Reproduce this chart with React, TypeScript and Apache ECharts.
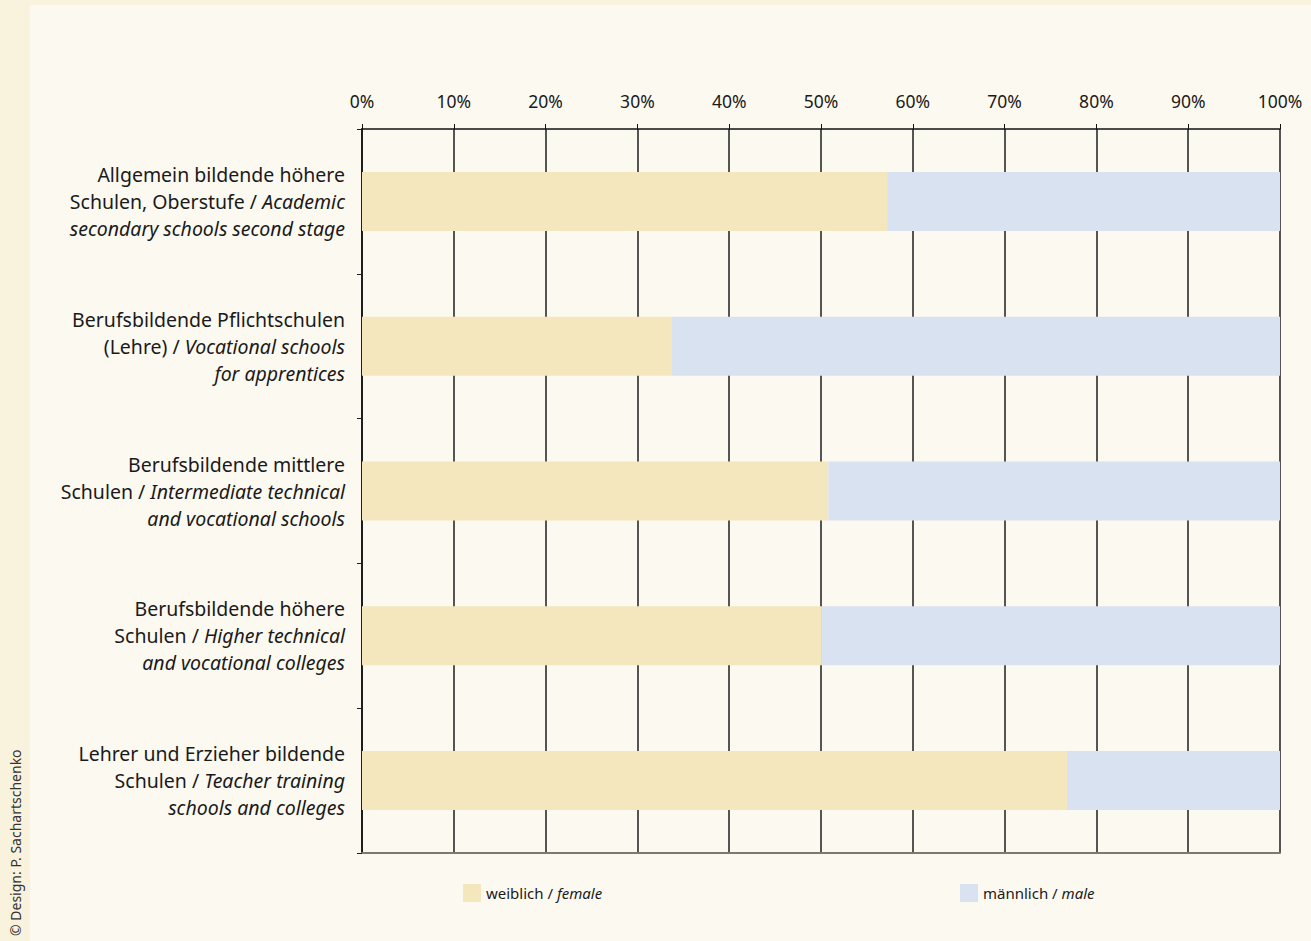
import React, { useEffect, useRef } from "react";
import * as echarts from "echarts";

const categories = [
  "Allgemein bildende höhere\nSchulen, Oberstufe / {i|Academic}\n{i|secondary schools second stage}",
  "Berufsbildende Pflichtschulen\n(Lehre) / {i|Vocational schools}\n{i|for apprentices}",
  "Berufsbildende mittlere\nSchulen / {i|Intermediate technical}\n{i|and vocational schools}",
  "Berufsbildende höhere\nSchulen / {i|Higher technical}\n{i|and vocational colleges}",
  "Lehrer und Erzieher bildende\nSchulen / {i|Teacher training}\n{i|schools and colleges}",
];
const female = [57.2, 33.7, 50.8, 50.1, 76.8];
const male = [42.8, 66.3, 49.2, 49.9, 23.2];
const seriesNames = ["weiblich", "männlich"];
const legendLabels: Record<string, string> = {
  weiblich: "weiblich / {i|female}",
  männlich: "männlich / {i|male}",
};

const FONT = "'Noto Sans', 'Open Sans', sans-serif";
const LABEL_SIZE = 19.5;
const LEGEND_SIZE = 15;

export default function App() {
  const ref = useRef<HTMLDivElement>(null);
  useEffect(() => {
    if (!ref.current) return;
    const chart = echarts.init(ref.current, undefined, { renderer: "svg" });
    const legendText = {
      fontSize: LEGEND_SIZE,
      color: "#1a1a1a",
      fontFamily: FONT,
      rich: { i: { fontStyle: "italic", fontSize: LEGEND_SIZE, color: "#1a1a1a", fontFamily: FONT } },
    };
    chart.setOption({
      animation: false,
      backgroundColor: "#f9f2dc",
      textStyle: { fontFamily: FONT },
      graphic: [
        {
          type: "rect",
          z: -10,
          shape: { x: 30, y: 5, width: 1281, height: 936 },
          style: { fill: "#fcf9f1" },
          silent: true,
        },
        {
          type: "text",
          x: 15,
          y: 936,
          rotation: Math.PI / 2,
          style: {
            text: "© Design: P. Sachartschenko",
            fontSize: 14,
            fontFamily: FONT,
            fill: "#333",
            align: "left",
            verticalAlign: "middle",
          },
        },
      ],
      grid: { left: 362, top: 129, right: 31, bottom: 88, containLabel: false },
      legend: [
        {
          data: [seriesNames[0]],
          left: 458,
          top: 879,
          itemWidth: 18,
          itemHeight: 18,
          icon: "rect",
          formatter: (n: string) => legendLabels[n],
          textStyle: legendText,
        },
        {
          data: [seriesNames[1]],
          left: 955,
          top: 879,
          itemWidth: 18,
          itemHeight: 18,
          icon: "rect",
          formatter: (n: string) => legendLabels[n],
          textStyle: legendText,
        },
      ],
      xAxis: [
        {
          type: "value",
          position: "top",
          min: 0,
          max: 100,
          interval: 10,
          axisLine: { show: true, lineStyle: { color: "#111", width: 1.5 } },
          axisTick: { show: true, length: 5, lineStyle: { color: "#111" } },
          axisLabel: {
            formatter: "{value}%",
            fontSize: 17.5,
            color: "#1a1a1a",
            margin: 19,
            fontFamily: FONT,
          },
          splitLine: { show: true, lineStyle: { color: "#1e1e1e", width: 1.5 } },
        },
        {
          type: "value",
          position: "bottom",
          min: 0,
          max: 100,
          interval: 10,
          axisLine: { show: true, lineStyle: { color: "#7a7a72", width: 2 } },
          axisTick: { show: false },
          axisLabel: { show: false },
          splitLine: { show: false },
        },
      ],
      yAxis: {
        type: "category",
        inverse: true,
        data: categories,
        axisLine: { show: true, lineStyle: { color: "#1e1e1e", width: 2 } },
        axisTick: { show: true, length: 5, lineStyle: { color: "#1e1e1e" } },
        axisLabel: {
          fontSize: LABEL_SIZE,
          lineHeight: 27,
          color: "#1a1a1a",
          margin: 17,
          align: "right",
          fontFamily: FONT,
          rich: {
            i: { fontStyle: "italic", fontSize: LABEL_SIZE, lineHeight: 27, color: "#1a1a1a", fontFamily: FONT },
          },
        },
      },
      series: [
        {
          name: seriesNames[0],
          type: "bar",
          stack: "total",
          data: female,
          barWidth: 59,
          itemStyle: { color: "#f5e7bd" },
          z: 3,
        },
        {
          name: seriesNames[1],
          type: "bar",
          stack: "total",
          data: male,
          barWidth: 59,
          itemStyle: { color: "#d9e2f0" },
          z: 3,
        },
      ],
    });
    return () => chart.dispose();
  }, []);
  return (
    <div
      ref={ref}
      style={{ position: "fixed", left: 0, top: 0, width: 1311, height: 941 }}
    />
  );
}
